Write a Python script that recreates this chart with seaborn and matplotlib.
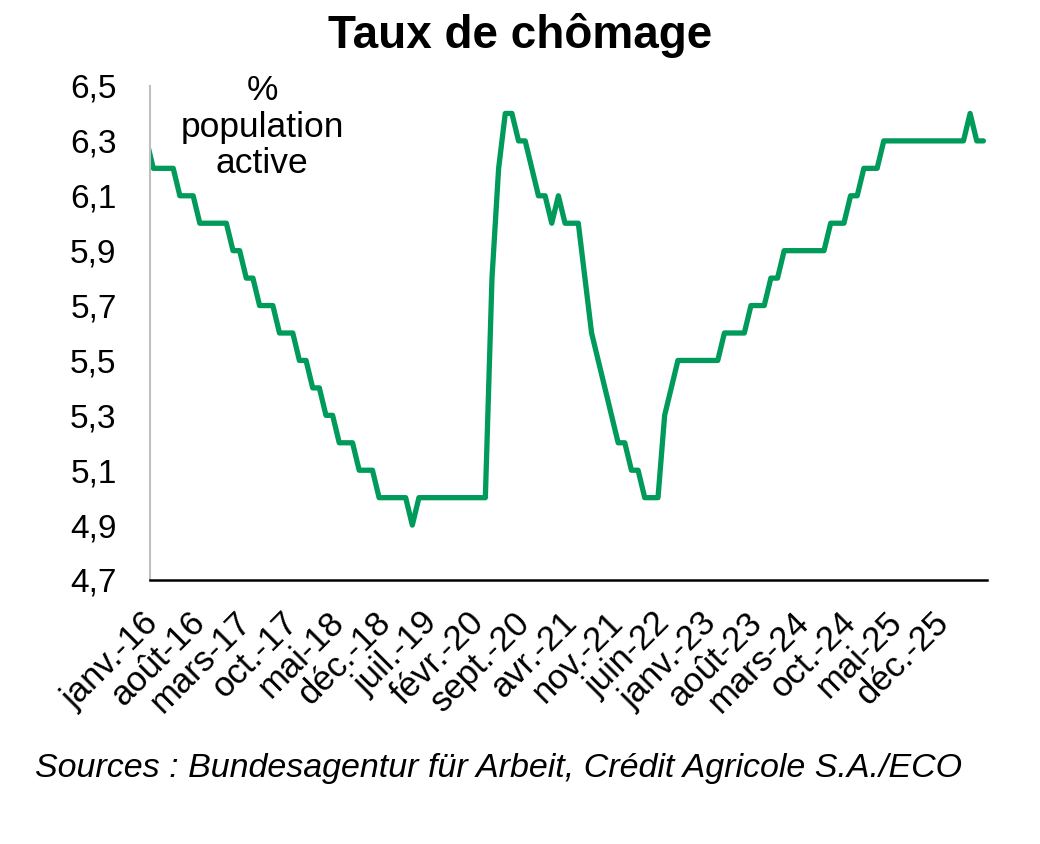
import numpy as np
import pandas as pd
import matplotlib
matplotlib.use("Agg")
import matplotlib.pyplot as plt
import seaborn as sns

# ---- data (monthly, déc.-15 .. juin-26), % of active population ----
month_abbr = ["janv.", "févr.", "mars", "avr.", "mai", "juin",
              "juil.", "août", "sept.", "oct.", "nov.", "déc."]
start_year, start_month = 2015, 12
values = [
    6.3,                                                        # déc.-15
    6.2, 6.2, 6.2, 6.2, 6.1, 6.1, 6.1, 6.0, 6.0, 6.0, 6.0, 6.0,  # 2016
    5.9, 5.9, 5.8, 5.8, 5.7, 5.7, 5.7, 5.6, 5.6, 5.6, 5.5, 5.5,  # 2017
    5.4, 5.4, 5.3, 5.3, 5.2, 5.2, 5.2, 5.1, 5.1, 5.1, 5.0, 5.0,  # 2018
    5.0, 5.0, 5.0, 4.9, 5.0, 5.0, 5.0, 5.0, 5.0, 5.0, 5.0, 5.0,  # 2019
    5.0, 5.0, 5.0, 5.8, 6.2, 6.4, 6.4, 6.3, 6.3, 6.2, 6.1, 6.1,  # 2020
    6.0, 6.1, 6.0, 6.0, 6.0, 5.8, 5.6, 5.5, 5.4, 5.3, 5.2, 5.2,  # 2021
    5.1, 5.1, 5.0, 5.0, 5.0, 5.3, 5.4, 5.5, 5.5, 5.5, 5.5, 5.5,  # 2022
    5.5, 5.5, 5.6, 5.6, 5.6, 5.6, 5.7, 5.7, 5.7, 5.8, 5.8, 5.9,  # 2023
    5.9, 5.9, 5.9, 5.9, 5.9, 5.9, 6.0, 6.0, 6.0, 6.1, 6.1, 6.2,  # 2024
    6.2, 6.2, 6.3, 6.3, 6.3, 6.3, 6.3, 6.3, 6.3, 6.3, 6.3, 6.3,  # 2025
    6.3, 6.3, 6.3, 6.4, 6.3, 6.3,                                # 2026
]
tick_labels = ["janv.-16", "août-16", "mars-17", "oct.-17", "mai-18", "déc.-18",
               "juil.-19", "févr.-20", "sept.-20", "avr.-21", "nov.-21", "juin-22",
               "janv.-23", "août-23", "mars-24", "oct.-24", "mai-25", "déc.-25"]
y_ticks = [4.7, 4.9, 5.1, 5.3, 5.5, 5.7, 5.9, 6.1, 6.3, 6.5]

# month labels for each observation, positions relative to janv.-16
labels = []
y, m = start_year, start_month
for _ in values:
    labels.append(f"{month_abbr[m - 1]}-{str(y)[2:]}")
    m += 1
    if m > 12:
        m, y = 1, y + 1
pos = np.arange(len(values)) - labels.index("janv.-16")
df = pd.DataFrame({"pos": pos, "mois": labels, "taux": values})

# ---- style ----
sns.set_style("white")
plt.rcParams["font.family"] = ["Liberation Sans", "DejaVu Sans"]
plt.rcParams["text.color"] = "black"
plt.rcParams["xtick.color"] = "black"
plt.rcParams["ytick.color"] = "black"
GREEN = "#009A5B"

fig = plt.figure(figsize=(10.4, 8.44), dpi=100)
ax = fig.add_axes([150 / 1040, 1 - 580 / 844, (986.7 - 150) / 1040, (580 - 86) / 844])

sns.lineplot(data=df, x="pos", y="taux", ax=ax, color=GREEN, linewidth=3.8,
             solid_joinstyle="round", solid_capstyle="round", legend=False)

ax.set_xlim(-0.5, df["pos"].max() + 0.5)
ax.set_ylim(4.7, 6.5)
ax.set_xlabel("")
ax.set_ylabel("")

tick_pos = [int(df.loc[df["mois"] == t, "pos"].iloc[0]) for t in tick_labels]
ax.set_xticks(tick_pos)
ax.set_xticklabels(tick_labels, rotation=45, ha="right", va="center",
                   rotation_mode="anchor", fontsize=25, color="black")
ax.set_yticks(y_ticks)
ax.set_yticklabels([f"{v:.1f}".replace(".", ",") for v in y_ticks], fontsize=24,
                   color="black")
ax.tick_params(axis="both", length=0)
ax.tick_params(axis="y", pad=24)
ax.tick_params(axis="x", pad=27)

for s in ["top", "right"]:
    ax.spines[s].set_visible(False)
ax.spines["left"].set_color("#BFBFBF")
ax.spines["left"].set_linewidth(1.5)
ax.spines["bottom"].set_color("black")
ax.spines["bottom"].set_linewidth(1.8)
ax.grid(False)

fig.text(0.5, 1 - 35 / 844, "Taux de chômage", ha="center", va="center",
         fontsize=33, fontweight="bold", color="black")
fig.text(262 / 1040, 1 - 127 / 844, "%\npopulation\nactive", ha="center", va="center",
         fontsize=25.5, linespacing=1.15, color="black")
fig.text(35 / 1040, 1 - 768 / 844,
         "Sources : Bundesagentur für Arbeit, Crédit Agricole S.A./ECO",
         ha="left", va="center", fontsize=24.5, style="italic", color="black")

fig.savefig("out.png", dpi=100)
